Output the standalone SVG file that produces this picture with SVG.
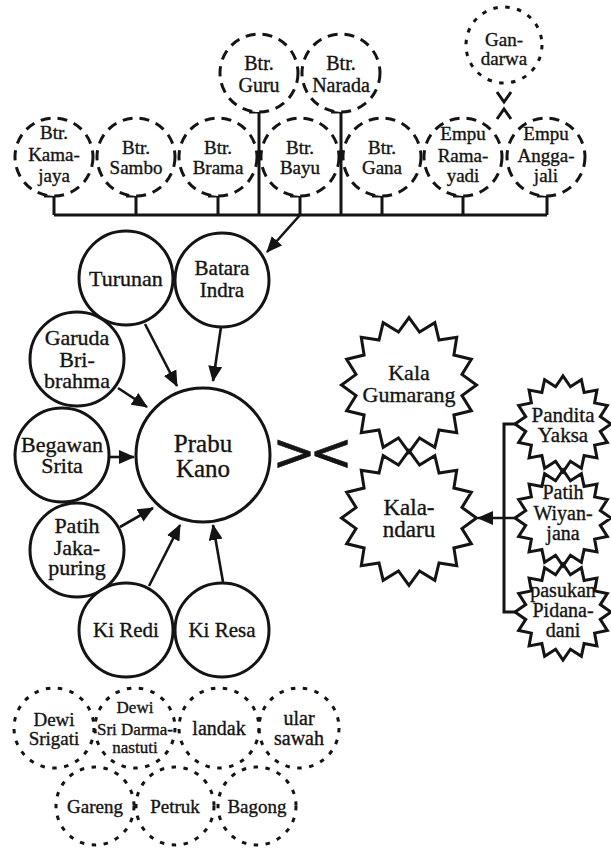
<svg xmlns="http://www.w3.org/2000/svg" width="611" height="851" viewBox="0 0 611 851">
<style>
text{font-family:'Liberation Serif','DejaVu Serif',serif;fill:#141414;stroke:#141414;stroke-width:0.35;text-anchor:middle}
.dl{fill:#fff;stroke:#141414;stroke-width:3;stroke-dasharray:10 7}
.ds{fill:none;stroke:#141414;stroke-width:3;stroke-dasharray:4.5 7.5}
.sc{fill:#fff;stroke:#141414;stroke-width:3}
.st{fill:none;stroke:#141414;stroke-width:3;stroke-linejoin:miter}
.ln{fill:none;stroke:#141414;stroke-width:3}
.ar{fill:none;stroke:#141414;stroke-width:2.6;marker-end:url(#ah)}
.f17{font-size:17px}.f19{font-size:19px}.f20{font-size:20px}.f21{font-size:21px}.f22{font-size:22px}.f23{font-size:23px}.f25{font-size:25px}
</style>
<defs>
<marker id="ah" markerUnits="userSpaceOnUse" markerWidth="16" markerHeight="14" refX="15" refY="7" orient="auto">
<path d="M0,0 L16,7 L0,14 z" fill="#141414"/>
</marker>
<polygon id="bigstar" points="67.5,0 52.96,10.53 62.36,25.83 44.9,30 47.73,47.73 30,44.9 25.83,62.36 10.53,52.96 0,67.5 -10.53,52.96 -25.83,62.36 -30,44.9 -47.73,47.73 -44.9,30 -62.36,25.83 -52.96,10.53 -67.5,0 -52.96,-10.53 -62.36,-25.83 -44.9,-30 -47.73,-47.73 -30,-44.9 -25.83,-62.36 -10.53,-52.96 0,-67.5 10.53,-52.96 25.83,-62.36 30,-44.9 47.73,-47.73 44.9,-30 62.36,-25.83 52.96,-10.53"/>
<polygon id="smallstar" points="48,0 37.27,7.41 44.35,18.37 31.6,21.11 33.94,33.94 21.11,31.6 18.37,44.35 7.41,37.27 0,48 -7.41,37.27 -18.37,44.35 -21.11,31.6 -33.94,33.94 -31.6,21.11 -44.35,18.37 -37.27,7.41 -48,0 -37.27,-7.41 -44.35,-18.37 -31.6,-21.11 -33.94,-33.94 -21.11,-31.6 -18.37,-44.35 -7.41,-37.27 0,-48 7.41,-37.27 18.37,-44.35 21.11,-31.6 33.94,-33.94 31.6,-21.11 44.35,-18.37 37.27,-7.41"/>
</defs>

<g id="connectors">
<path class="ln" d="M44,196 H54 V215 M126,196 H136 V215 M208,196 H218 V215 M249,112 H259 V215 M290,196 H300 V215 M331,112 H341 V215 M372,196 H382 V215 M453,196 H463 V215 M537,196 H547 V215 M54,215 H547"/>
<path class="ln" d="M497,92 L504,102 L511,92 M497,119 L504,109 L511,119"/>
<path class="ar" d="M300,215 L267,252"/>
<path class="ar" d="M145,324 L177,386"/>
<path class="ar" d="M221,327 L213,381"/>
<path class="ar" d="M118,388 L147,407"/>
<path class="ar" d="M110,457 L134,457"/>
<path class="ar" d="M120,527 L153,508"/>
<path class="ar" d="M149,586 L180,525"/>
<path class="ar" d="M223,582 L213,525"/>
<path class="ln" d="M515,424 H504 V612 H515"/>
<path class="ar" d="M515,518 L478,518"/>
</g>

<g id="n-kamajaya"><circle class="dl" cx="54" cy="157" r="39"/><text class="f19" x="54" y="139">Btr.</text><text class="f19" x="54" y="161">Kama-</text><text class="f19" x="54" y="182">jaya</text></g>
<g id="n-sambo"><circle class="dl" cx="136" cy="157" r="39"/><text class="f19" x="136" y="154">Btr.</text><text class="f19" x="136" y="174">Sambo</text></g>
<g id="n-brama"><circle class="dl" cx="218" cy="157" r="39"/><text class="f19" x="218" y="154">Btr.</text><text class="f19" x="218" y="174">Brama</text></g>
<g id="n-guru"><circle class="dl" cx="259" cy="73" r="39"/><text class="f20" x="259" y="70">Btr.</text><text class="f20" x="259" y="92">Guru</text></g>
<g id="n-bayu"><circle class="dl" cx="300" cy="157" r="39"/><text class="f19" x="300" y="154">Btr.</text><text class="f19" x="300" y="174">Bayu</text></g>
<g id="n-narada"><circle class="dl" cx="341" cy="73" r="39"/><text class="f20" x="341" y="70">Btr.</text><text class="f20" x="341" y="92">Narada</text></g>
<g id="n-gana"><circle class="dl" cx="382" cy="157" r="39"/><text class="f19" x="382" y="154">Btr.</text><text class="f19" x="382" y="174">Gana</text></g>
<g id="n-ramayadi"><circle class="dl" cx="463" cy="157" r="39"/><text class="f19" x="463" y="140">Empu</text><text class="f19" x="463" y="162">Rama-</text><text class="f19" x="463" y="182">yadi</text></g>
<g id="n-anggajali"><circle class="dl" cx="546" cy="157" r="39"/><text class="f19" x="546" y="140">Empu</text><text class="f19" x="546" y="162">Angga-</text><text class="f19" x="546" y="182">jali</text></g>
<g id="n-gandarwa"><circle class="ds" cx="504" cy="45" r="38"/><text class="f19" x="504" y="46">Gan-</text><text class="f19" x="504" y="65">darwa</text></g>

<g id="n-turunan"><circle class="sc" cx="126" cy="278" r="47"/><text class="f22" x="126" y="286">Turunan</text></g>
<g id="n-indra"><circle class="sc" cx="222" cy="280" r="47"/><text class="f21" x="222" y="275">Batara</text><text class="f21" x="222" y="297">Indra</text></g>
<g id="n-garuda"><circle class="sc" cx="77" cy="359" r="47"/><text class="f22" x="77" y="345">Garuda</text><text class="f22" x="77" y="367">Bri-</text><text class="f22" x="77" y="388">brahma</text></g>
<g id="n-begawan"><circle class="sc" cx="62" cy="455" r="47"/><text class="f22" x="62" y="452">Begawan</text><text class="f22" x="62" y="473">Srita</text></g>
<g id="n-kano"><circle class="sc" cx="203" cy="455" r="67"/><text class="f25" x="203" y="452">Prabu</text><text class="f25" x="203" y="477">Kano</text></g>
<g id="n-jakapuring"><circle class="sc" cx="77" cy="550" r="47"/><text class="f22" x="77" y="533">Patih</text><text class="f22" x="77" y="555">Jaka-</text><text class="f22" x="77" y="575">puring</text></g>
<g id="n-kiredi"><circle class="sc" cx="126" cy="630" r="47"/><text class="f21" x="126" y="637">Ki Redi</text></g>
<g id="n-kiresa"><circle class="sc" cx="222" cy="630" r="47"/><text class="f21" x="222" y="637">Ki Resa</text></g>

<g id="versus"><text x="294" y="470" style="font-family:'DejaVu Sans',sans-serif;font-size:52px;stroke-width:0.6">&gt;</text><text x="331" y="470" style="font-family:'DejaVu Sans',sans-serif;font-size:52px;stroke-width:0.6">&lt;</text></g>

<g id="n-gumarang"><use href="#bigstar" class="st" transform="translate(409,385)"/><text class="f22" x="409" y="380">Kala</text><text class="f22" x="409" y="402">Gumarang</text></g>
<g id="n-kalandaru"><use href="#bigstar" class="st" transform="translate(409,518)"/><text class="f23" x="409" y="515">Kala-</text><text class="f23" x="409" y="537">ndaru</text></g>
<g id="n-pandita"><use href="#smallstar" class="st" transform="translate(563,424)"/><text class="f21" x="563" y="422">Pandita</text><text class="f21" x="563" y="442">Yaksa</text></g>
<g id="n-wiyanjana"><use href="#smallstar" class="st" transform="translate(563,518)"/><text class="f20" x="563" y="499">Patih</text><text class="f20" x="563" y="520">Wiyan-</text><text class="f20" x="563" y="540">jana</text></g>
<g id="n-pasukan"><use href="#smallstar" class="st" transform="translate(563,612)"/><text class="f20" x="563" y="597">pasukan</text><text class="f20" x="563" y="617">Pidana-</text><text class="f20" x="563" y="637">dani</text></g>

<g id="n-srigati"><circle class="ds" cx="54" cy="728" r="40"/><text class="f19" x="54" y="726">Dewi</text><text class="f19" x="54" y="745">Srigati</text></g>
<g id="n-darmanastuti"><circle class="ds" cx="135" cy="728" r="40"/><text class="f17" x="135" y="713">Dewi</text><text class="f17" x="135" y="735">Sri Darma-</text><text class="f17" x="135" y="753">nastuti</text></g>
<g id="n-landak"><circle class="ds" cx="219" cy="728" r="40"/><text class="f20" x="219" y="735">landak</text></g>
<g id="n-ularsawah"><circle class="ds" cx="299" cy="728" r="40"/><text class="f20" x="299" y="725">ular</text><text class="f20" x="299" y="745">sawah</text></g>
<g id="n-gareng"><circle class="ds" cx="95" cy="806" r="39"/><text class="f19" x="95" y="813">Gareng</text></g>
<g id="n-petruk"><circle class="ds" cx="175" cy="806" r="39"/><text class="f19" x="175" y="813">Petruk</text></g>
<g id="n-bagong"><circle class="ds" cx="257" cy="806" r="39"/><text class="f19" x="257" y="813">Bagong</text></g>
</svg>
